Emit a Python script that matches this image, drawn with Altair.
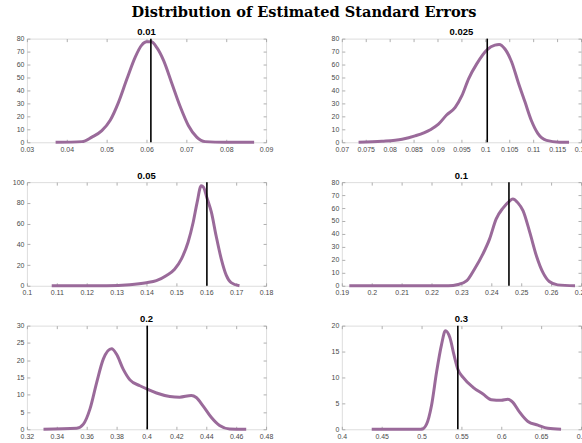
import altair as alt
import pandas as pd

# ---------------- data ----------------
panel_titles = ["0.01", "0.025", "0.05", "0.1", "0.2", "0.3"]

p1_x = [0.0372, 0.0438, 0.0463, 0.0488, 0.0509, 0.0530, 0.0551, 0.0572, 0.0588, 0.0600, 0.0612,
        0.0626, 0.0643, 0.0663, 0.0684, 0.0705, 0.0726, 0.0747, 0.0797, 0.0870]
p1_y = [0, 0.5, 4, 9, 17, 31, 49, 66, 75, 77.5, 77.5, 73, 63, 46, 28, 13, 4, 0.5, 0, 0]

p2_x = [0.0735, 0.0784, 0.0826, 0.0853, 0.0885, 0.0902, 0.0919, 0.0937, 0.0951, 0.0965, 0.0982,
        0.1004, 0.1020, 0.1029, 0.1041, 0.1055, 0.1069, 0.1083, 0.1096, 0.1110, 0.1128, 0.1155, 0.1175]
p2_y = [0, 0.7, 2.3, 4.9, 9.7, 14, 21, 27, 36, 49, 60.5, 71.5, 75, 75.5, 72, 62, 46, 31, 17, 6.7,
        1.5, 0.1, 0]

p3_x = [0.1083, 0.1267, 0.1344, 0.1400, 0.1433, 0.1467, 0.1494, 0.1517, 0.1539, 0.1556, 0.1569,
        0.1583, 0.1591, 0.1602, 0.1617, 0.1633, 0.1650, 0.1667, 0.1683, 0.1711]
p3_y = [0, 0, 1, 3, 5, 10, 16, 26, 42, 61, 80, 96.5, 95, 85, 71, 48, 26, 10, 3, 0]

p4_x = [0.1925, 0.2256, 0.2289, 0.2318, 0.2344, 0.2372, 0.2394, 0.2416, 0.2439, 0.2459, 0.2472,
        0.2489, 0.2506, 0.2529, 0.2551, 0.2572, 0.2594, 0.2622, 0.2680]
p4_y = [0, 0, 1, 4, 13, 24.6, 36, 51.5, 60, 65, 67, 64, 58, 41, 23, 10.5, 3.3, 0.7, 0]

p5_x = [0.3311, 0.3533, 0.3578, 0.3622, 0.3667, 0.3711, 0.3767, 0.3800, 0.3844, 0.3889, 0.3956,
        0.4005, 0.4067, 0.4156, 0.4222, 0.4300, 0.4333, 0.4378, 0.4433, 0.4489, 0.4556, 0.4667]
p5_y = [0, 0.3, 1.5, 5.9, 13.6, 20.3, 23.3, 21.7, 17.4, 14.3, 12.6, 11.6, 10.5, 9.5, 9.3, 9.8,
        9.2, 6.8, 3.5, 1.1, 0.1, 0]

p6_x = [0.4375, 0.5000, 0.5063, 0.5125, 0.5188, 0.5250, 0.5300, 0.5355, 0.5409, 0.5455, 0.5521,
        0.5646, 0.5771, 0.5875, 0.6000, 0.6083, 0.6146, 0.6230, 0.6334, 0.6459, 0.6584, 0.6750]
p6_y = [0, 0, 1, 4.6, 11, 16.3, 19, 17.7, 14.2, 11.6, 10, 8.1, 6.8, 5.7, 5.6, 5.8, 5.2, 3.3, 1.5,
        0.8, 0.2, 0]

true_se = [0.0611, 0.1004, 0.1602, 0.2459, 0.4005, 0.5455]

x_ticks = [
    [0.03, 0.04, 0.05, 0.06, 0.07, 0.08, 0.09],
    [0.07, 0.075, 0.08, 0.085, 0.09, 0.095, 0.1, 0.105, 0.11, 0.115, 0.12],
    [0.1, 0.11, 0.12, 0.13, 0.14, 0.15, 0.16, 0.17, 0.18],
    [0.19, 0.2, 0.21, 0.22, 0.23, 0.24, 0.25, 0.26, 0.27],
    [0.32, 0.34, 0.36, 0.38, 0.4, 0.42, 0.44, 0.46, 0.48],
    [0.4, 0.45, 0.5, 0.55, 0.6, 0.65, 0.7],
]
y_ticks = [
    [0, 10, 20, 30, 40, 50, 60, 70, 80],
    [0, 10, 20, 30, 40, 50, 60, 70, 80],
    [0, 20, 40, 60, 80, 100],
    [0, 10, 20, 30, 40, 50, 60, 70, 80],
    [0, 5, 10, 15, 20, 25, 30],
    [0, 5, 10, 15, 20],
]

series = [(p1_x, p1_y), (p2_x, p2_y), (p3_x, p3_y), (p4_x, p4_y), (p5_x, p5_y), (p6_x, p6_y)]

PURPLE = "#9a6a9a"
FRAME = "#9a9a9a"
LABEL_FONT = "Liberation Sans"
W, H = 240, 104


def panel(i):
    xs, ys = series[i]
    df = pd.DataFrame({"x": xs, "y": ys})
    xt, yt = x_ticks[i], y_ticks[i]
    xscale = alt.Scale(domain=[xt[0], xt[-1]], nice=False, zero=False)
    yscale = alt.Scale(domain=[yt[0], yt[-1]], nice=False)
    common = dict(domain=False, grid=False, tickSize=3, offset=-3, tickColor=FRAME,
                  tickWidth=0.8, title=None, labelFlush=False, labelOverlap=False)
    ax_b = alt.Axis(orient="bottom", values=xt, format="~g", labelPadding=3,
                    labelFont=LABEL_FONT, labelFontSize=7, labelColor="#4a4a4a", **common)
    ax_l = alt.Axis(orient="left", values=yt, format="d", labelPadding=3,
                    labelFont=LABEL_FONT, labelFontSize=7, labelColor="#4a4a4a", **common)
    ax_t = alt.Axis(orient="top", values=xt, labels=False, **common)
    ax_r = alt.Axis(orient="right", values=yt, labels=False, **common)

    line = alt.Chart(df).mark_line(color=PURPLE, strokeWidth=3, interpolate="monotone").encode(
        x=alt.X("x:Q", scale=xscale, axis=ax_b),
        y=alt.Y("y:Q", scale=yscale, axis=ax_l),
    )
    ghost = alt.Chart(df).mark_point(opacity=0).encode(
        x=alt.X("x:Q", scale=xscale, axis=ax_t),
        y=alt.Y("y:Q", scale=yscale, axis=ax_r),
    )
    rule = alt.Chart(pd.DataFrame({"se": [true_se[i]]})).mark_rule(
        color="black", strokeWidth=1.6).encode(
        x=alt.X("se:Q", scale=xscale, axis=None),
    )
    return alt.layer(line, rule, ghost).properties(
        width=W, height=H,
        title=alt.TitleParams(panel_titles[i], font=LABEL_FONT, fontSize=9.5, fontWeight="bold",
                              color="black", offset=-2),
    )


chart = alt.concat(*[panel(i) for i in range(6)], columns=2,
                   spacing={"row": 40, "column": 76}, bounds="flush").properties(
    title=alt.TitleParams("Distribution of Estimated Standard Errors", font="DejaVu Serif",
                          fontSize=14.6, fontWeight="bold", color="black", anchor="middle",
                          offset=7, dx=4),
    padding={"left": 11, "top": 4, "right": -7, "bottom": 0},
).configure_view(stroke=FRAME, strokeWidth=1).configure(background="white")

chart.save("out.html", embed_options={"renderer": "svg", "actions": False})
